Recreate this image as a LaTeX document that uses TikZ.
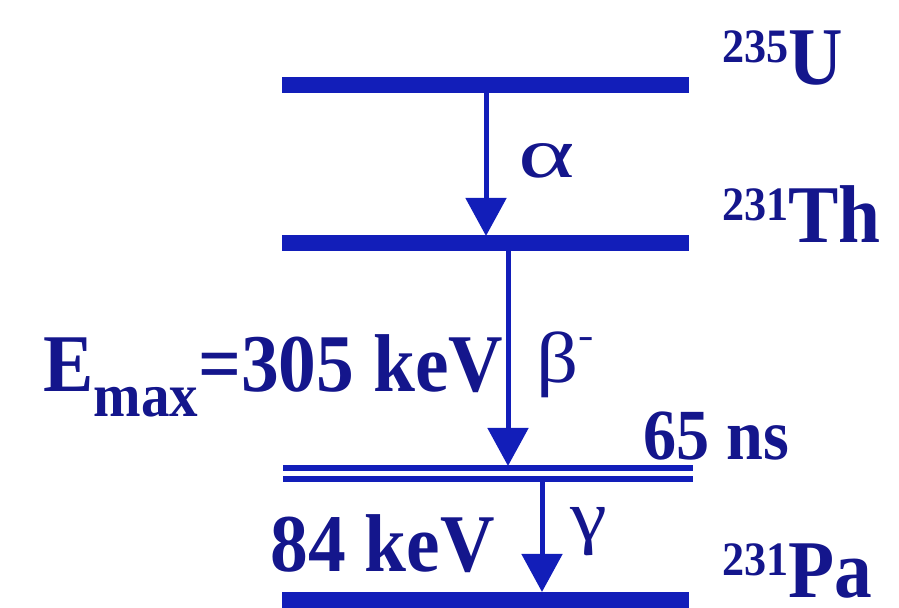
\documentclass[tikz,border=0pt]{standalone}
\usepackage{fontspec}
\setmainfont[FakeStretch=0.92]{Liberation Serif}
\newfontfamily\greekfont[FakeStretch=1.15]{Liberation Serif}
\usetikzlibrary{arrows.meta}

\definecolor{levelblue}{RGB}{18,30,185}
\definecolor{inkblue}{RGB}{20,22,140}
% mass number as raised prefix
\newcommand{\massno}[2]{{\fontsize{24}{24}\selectfont\raisebox{11pt}{#1}}#2}

\begin{document}
\begin{tikzpicture}[x=0.5pt, y=-0.5pt, >={Triangle[width=20pt,length=19pt]},
  level/.style={levelblue, line width=8pt},
  thinlevel/.style={levelblue, line width=3pt},
  decay/.style={->, levelblue, line width=2.5pt},
  lbl/.style={inkblue, font=\bfseries\fontsize{41}{41}\selectfont, inner sep=0pt, anchor=base west},
  greek/.style={inkblue, font=\greekfont\fontsize{36}{36}\selectfont, inner sep=0pt, anchor=base west}]

  \useasboundingbox (0,0) rectangle (899,608);

  % Thick levels
  \foreach \lv/\y in {U/85, Th/243.5, Pa/600} {
    \coordinate (\lv-w) at (282,\y);
    \coordinate (\lv-e) at (689,\y);
    \draw[level] (\lv-w) -- (\lv-e);
  }

  % Isomeric level (double line)
  \coordinate (Pm-w) at (283,468);
  \coordinate (Pm-e) at (693,468);
  \coordinate (Pn-w) at (283,479);
  \coordinate (Pn-e) at (693,479);
  \draw[thinlevel] (Pm-w) -- (Pm-e);
  \draw[thinlevel] (Pn-w) -- (Pn-e);

  % Decay arrows
  \coordinate (a-from) at (486,89);
  \coordinate (a-to) at (486,236);
  \coordinate (b-from) at (508,248);
  \coordinate (b-to) at (508,466);
  \coordinate (g-from) at (542,480);
  \coordinate (g-to) at (542,592);
  \draw[decay] (a-from) -- (a-to);
  \draw[decay] (b-from) -- (b-to);
  \draw[decay] (g-from) -- (g-to);

  % Level labels
  \node[lbl] (U-lbl) at (722,85) {\massno{235}{U}};
  \node[lbl] (Th-lbl) at (722,243) {\massno{231}{Th}};
  \node[lbl] (Pa-lbl) at (722,597) {\massno{231}{Pa}};
  \node[lbl, font=\bfseries\fontsize{36}{36}\selectfont] (t-lbl) at (643,460) {65 ns};

  % Transition labels
  \node[greek] (alpha) at (518,178) {\scalebox{1.3}[1]{α}};
  \node[greek] (beta) at (536,383) {β\raisebox{17pt}{\fontsize{20}{20}\selectfont -}};
  \node[greek] (gamma) at (570,541) {γ};
  \node[lbl] (emax) at (43,392)
    {E\raisebox{-12.5pt}{\fontsize{31}{31}\selectfont max}=305 keV};
  \node[lbl] (egam) at (270,572) {84 keV};

\end{tikzpicture}
\end{document}
